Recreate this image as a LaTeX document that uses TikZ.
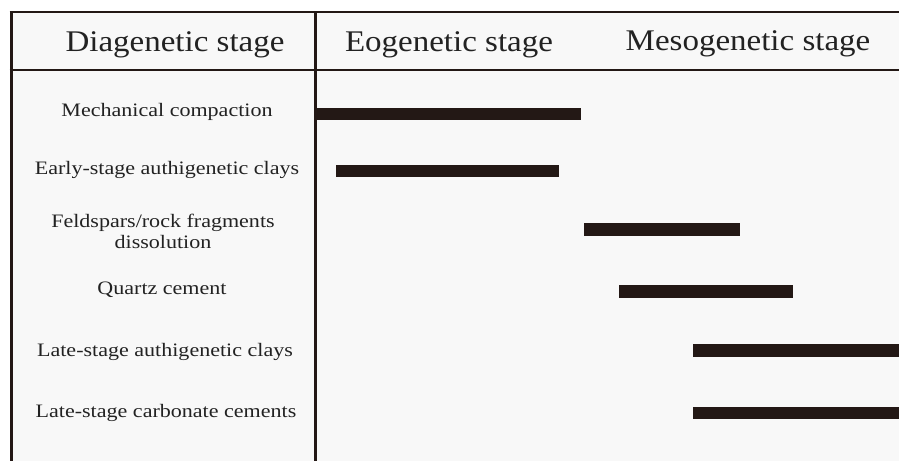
\documentclass[tikz,border=0pt]{standalone}
\usepackage{fontspec}
\setmainfont{Liberation Serif}
\definecolor{ink}{HTML}{231815}
\definecolor{txt}{HTML}{222222}
\definecolor{bg}{HTML}{F8F8F8}
\begin{document}
\begin{tikzpicture}[x=1pt,y=-1pt,
  rule/.style={draw=ink,line width=2.6pt},
  vrule/.style={draw=ink,line width=3pt},
  bar/.style={fill=ink},
  head/.style={text=txt,font=\fontsize{30}{32}\selectfont,xscale=1.1,inner sep=0pt},
  lab/.style={text=txt,font=\fontsize{19}{22}\selectfont,xscale=1.16,inner sep=0pt,align=center}]
\useasboundingbox (0,0) rectangle (899,461);
\fill[white] (0,0) rectangle (899,461);
\fill[bg] (11,12) rectangle (899,461);
% frame
\coordinate (tl) at (9.5,12);
\coordinate (tr) at (899,12);
\coordinate (hl) at (9.5,70);
\coordinate (hr) at (899,70);
\coordinate (lt) at (11,12);
\coordinate (lb) at (11,461);
\coordinate (dt) at (315,12);
\coordinate (db) at (315,461);
\draw[rule] (tl) -- (tr);
\draw[rule] (hl) -- (hr);
\draw[vrule] (lt) -- (lb);
\draw[vrule] (dt) -- (db);
% headers
\node[head] (h1) at (175,45) {Diagenetic stage};
\node[head] (h2) at (449,45) {Eogenetic stage};
\node[head] (h3) at (748,44) {Mesogenetic stage};
% row labels
\node[lab] (r1) at (167,112) {Mechanical compaction};
\node[lab] (r2) at (167,170) {Early-stage authigenetic clays};
\node[lab] (r3) at (163,231) {Feldspars/rock fragments\\[-1pt]dissolution};
\node[lab] (r4) at (162,290) {Quartz cement};
\node[lab] (r5) at (165,352) {Late-stage authigenetic clays};
\node[lab] (r6) at (166,413) {Late-stage carbonate cements};
% bars
\fill[bar] (316,108) rectangle (581,120);
\fill[bar] (336,165) rectangle (559,177);
\fill[bar] (584,223) rectangle (740,236);
\fill[bar] (619,285) rectangle (793,298);
\fill[bar] (693,344) rectangle (899,357);
\fill[bar] (693,407) rectangle (899,419);
\end{tikzpicture}
\end{document}
